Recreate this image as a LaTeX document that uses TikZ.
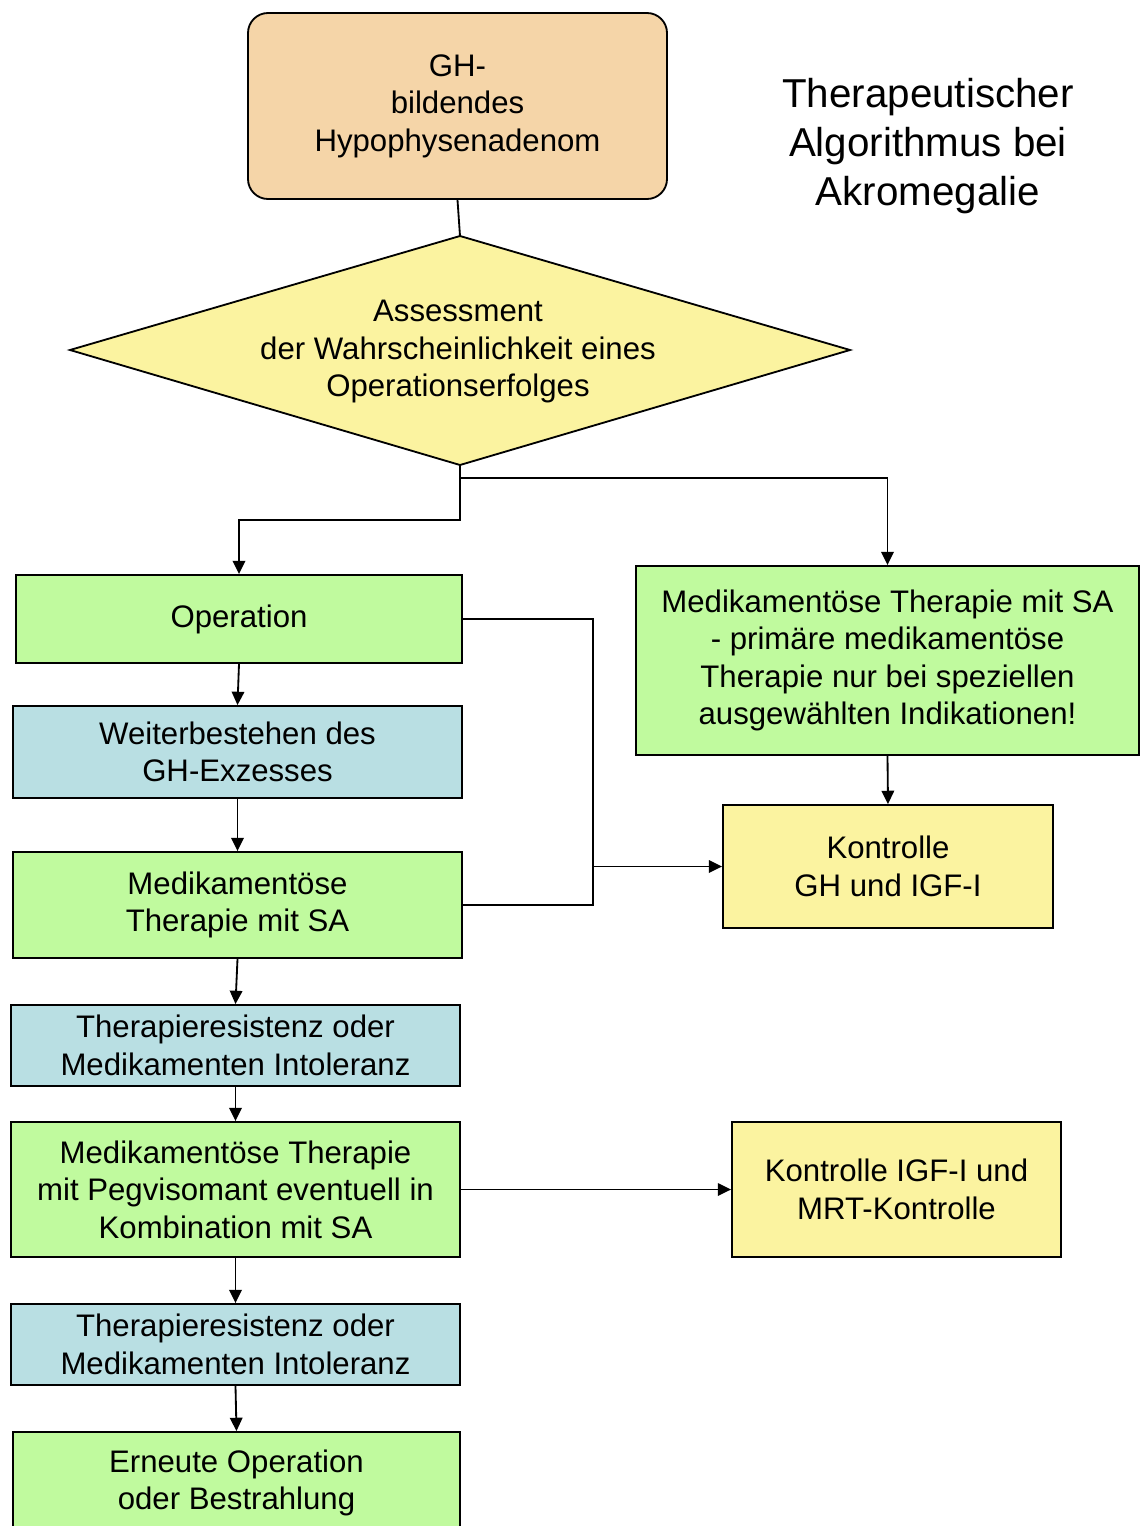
\documentclass[tikz,border=0pt]{standalone}
\usepackage{fontspec}
\setmainfont{Liberation Sans}
\usetikzlibrary{arrows.meta}
\definecolor{cOrange}{HTML}{F5D5A8}
\definecolor{cYellow}{HTML}{FBF3A0}
\definecolor{cGreen}{HTML}{C0FA9E}
\definecolor{cBlue}{HTML}{B9DFE3}
\tikzset{
  box/.style={draw=black, line width=1.1pt, inner sep=0pt, align=center,
    font=\fontsize{18.7}{22.5}\selectfont},
  sz/.style 2 args={minimum width=#1*0.6pt, minimum height=#2*0.6pt},
  ln/.style={line width=1.1pt},
  arr/.style={line width=1.1pt, -{Triangle[length=8pt,width=7.5pt]}},
  titletext/.style={align=center, font=\fontsize{24.2}{29.4}\selectfont}
}
\begin{document}
\begin{tikzpicture}[x=0.6pt,y=-0.6pt]
\clip (0,0) rectangle (1140,1526);
\useasboundingbox (0,0) rectangle (1140,1526);
\fill[white] (0,0) rectangle (1140,1526);

% top box
\node[box, rounded corners=12pt, fill=cOrange, sz={419}{186}] (gh) at (457.5,106) {GH-\\bildendes\\Hypophysenadenom};

% title
\node[titletext] (title) at (928,146) {Therapeutischer\\Algorithmus bei\\Akromegalie};

% diamond
\coordinate (dtop) at (460,236);
\coordinate (dbot) at (460,465);
\coordinate (dleft) at (70,350);
\coordinate (dright) at (850,350);
\draw[ln, fill=cYellow] (dleft) -- (dtop) -- (dright) -- (dbot) -- cycle;
\node[align=center, inner sep=0pt, font=\fontsize{18.7}{22.5}\selectfont] (dtxt) at (458,352) {Assessment\\der Wahrscheinlichkeit eines\\Operationserfolges};

% left column
\node[box, fill=cGreen, sz={446}{88}] (op) at (239,619) {Operation};
\node[box, fill=cBlue, sz={449}{92}] (weiter) at (237.5,752) {Weiterbestehen des\\GH-Exzesses};
\node[box, fill=cGreen, sz={449}{106}] (medl) at (237.5,905) {Medikamentöse\\Therapie mit SA};
\node[box, fill=cBlue, sz={449}{81}] (tra) at (235.5,1045.5) {Therapieresistenz oder\\Medikamenten Intoleranz};
\node[box, fill=cGreen, sz={449}{135}] (peg) at (235.5,1189.5) {Medikamentöse Therapie\\mit Pegvisomant eventuell in\\Kombination mit SA};
\node[box, fill=cBlue, sz={449}{81}] (trb) at (235.5,1344.5) {Therapieresistenz oder\\Medikamenten Intoleranz};
\node[box, fill=cGreen, sz={447}{102}] (ern) at (236.5,1483) {Erneute Operation\\oder Bestrahlung};

% right column
\node[box, fill=cGreen, sz={503}{189}] (medr) at (887.5,660.5) {Medikamentöse Therapie mit SA\\- primäre medikamentöse\\Therapie nur bei speziellen\\ausgewählten Indikationen!};
\node[box, fill=cYellow, sz={330}{123}] (kgh) at (888,866.5) {Kontrolle\\GH und IGF-I};
\node[box, fill=cYellow, sz={329}{135}] (kigf) at (896.5,1189.5) {Kontrolle IGF-I und\\MRT-Kontrolle};

% connectors
\draw[ln] (gh.south) -- (dtop);
\draw[arr] (dbot) -- ++(0,55) -| (op.north);
\draw[arr] (dbot) -- ++(0,13) -| (medr.north);
\draw[arr] (op.south) -- (weiter.north);
\draw[arr] (weiter.south) -- (medl.north);
\draw[arr] (medl.south) -- (tra.north);
\draw[arr] (tra.south) -- (peg.north);
\draw[arr] (peg.south) -- (trb.north);
\draw[arr] (trb.south) -- (ern.north);
\coordinate (j) at (593,866.5);
\draw[ln] (op.east) -| (j) |- (medl.east);
\draw[arr] (j) -- (kgh.west);
\draw[arr] (medr.south) -- (kgh.north);
\draw[arr] (peg.east) -- (kigf.west);
\end{tikzpicture}
\end{document}
